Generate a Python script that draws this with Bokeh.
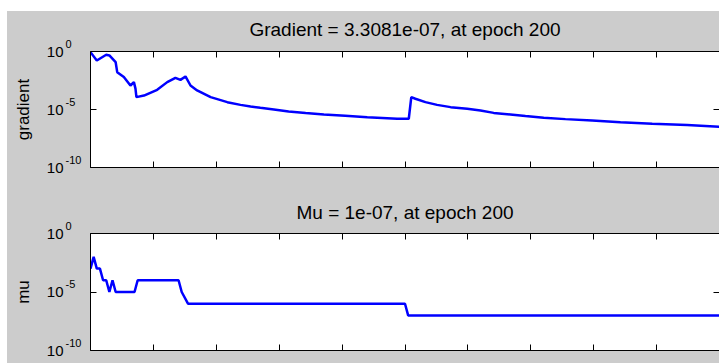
from bokeh.plotting import figure
from bokeh.layouts import column
from bokeh.models import Range1d, LinearAxis, LogAxis, FixedTicker
from bokeh.core.properties import value
from bokeh.embed import file_html
from bokeh.resources import INLINE

# ---- data ----
grad_epoch = [0, 2, 5, 6, 8, 8.5, 10.6, 12.7, 13.8, 14.3, 14.6, 17, 21.2, 24.4, 27, 28.6,
              30.2, 31.8, 33.9, 38.2, 43.5, 47.7, 50.9, 54, 58.3, 63, 68.4, 74.2, 81, 88,
              97.5, 101.2, 102, 103.3, 106.5, 110.2, 114.5, 119.8, 124, 128.2, 133.5,
              138.3, 144.1, 151, 159.5, 168.5, 178.6, 189.7, 200]
grad_value = [0.87, 0.166, 0.525, 0.457, 0.12, 0.0166, 0.0063, 0.00117, 0.00229, 6.3e-4,
              1.17e-4, 1.58e-4, 5.0e-4, 2.29e-3, 5.4e-3, 3.6e-3, 7.1e-3, 1.17e-3, 4.4e-4,
              1.17e-4, 4.3e-5, 2.5e-5, 1.8e-5, 1.4e-5, 1.0e-5, 6.8e-6, 4.9e-6, 3.7e-6,
              2.9e-6, 2.2e-6, 1.6e-6, 1.6e-6, 1.17e-4, 8.5e-5, 4.3e-5, 2.5e-5, 1.6e-5,
              1.15e-5, 8.1e-6, 5.1e-6, 3.7e-6, 2.7e-6, 1.9e-6, 1.48e-6, 1.12e-6, 8.1e-7,
              5.9e-7, 4.5e-7, 3.3081e-7]

mu_epoch = [0, 1, 2, 3, 4, 5, 6, 7, 8, 14, 15, 28, 29, 31, 100, 101, 200]
mu_value = [1e-3, 1e-2, 1e-3, 1e-3, 1e-4, 1e-4, 1e-5, 1e-4, 1e-5, 1e-5, 1e-4, 1e-4,
            1e-5, 1e-6, 1e-6, 1e-7, 1e-7]

x_ticks = [0, 20, 40, 60, 80, 100, 120, 140, 160, 180, 200]
y_ticks = [1e-10, 1e-5, 1e0]
y_tick_base = ["10", "10", "10"]
y_tick_exp = ["-10", "-5", "0"]

titles = ["Gradient = 3.3081e-07, at epoch 200", "Mu = 1e-07, at epoch 200"]
ylabels = ["gradient", "mu"]

FONT = "Liberation Sans"
GRAY = "#cccccc"
X_MIN, X_MAX = 0, 200
Y_MIN, Y_MAX = 1e-10, 1


def style_axis(ax, ticks, line=True):
    ax.ticker = FixedTicker(ticks=ticks, minor_ticks=[])
    ax.major_label_overrides = {t: "" for t in ticks}
    ax.major_tick_in = 6
    ax.major_tick_out = 0
    ax.minor_tick_line_color = None
    ax.major_tick_line_color = "black"
    ax.major_label_standoff = 0
    ax.major_label_text_font_size = "1px"
    ax.axis_line_color = "black" if line else None


def panel(title, ylabel, xs, ys, height, btop, bbottom, title_gap):
    p = figure(width=712, height=height, x_range=Range1d(X_MIN, X_MAX),
               y_range=Range1d(Y_MIN, Y_MAX), y_axis_type="log",
               output_backend="svg", toolbar_location=None,
               min_border_left=83, min_border_right=0,
               min_border_top=btop, min_border_bottom=bbottom,
               background_fill_color="white", border_fill_color=GRAY,
               outline_line_color=None)
    p.grid.visible = False

    style_axis(p.xaxis[0], x_ticks)
    ya = p.yaxis[0]
    style_axis(ya, y_ticks)
    ya.axis_label = ylabel
    ya.axis_label_text_font = FONT
    ya.axis_label_text_font_size = "17px"
    ya.axis_label_text_font_style = "normal"
    ya.axis_label_text_color = "black"
    ya.axis_label_standoff = 58

    top = LinearAxis()
    style_axis(top, x_ticks)
    p.add_layout(top, "above")
    right = LogAxis()
    style_axis(right, y_ticks, line=False)
    p.add_layout(right, "right")

    # title, centred over the axes box, drawn unclipped above it
    p.text(x=[(X_MIN + X_MAX) / 2], y=[Y_MAX], text=[title], y_offset=-title_gap,
           text_align="center", text_baseline="middle", text_font=value(FONT),
           text_font_size="19px", text_color="black", level="overlay")

    # y tick labels: "10" with a raised exponent, drawn unclipped
    p.text(x=[X_MIN] * len(y_ticks), y=y_ticks, text=y_tick_base, x_offset=-27,
           text_align="right", text_baseline="middle", text_font=value(FONT),
           text_font_size="15px", text_color="black", level="overlay")
    p.text(x=[X_MIN] * len(y_ticks), y=y_ticks, text=y_tick_exp, x_offset=-25,
           y_offset=-8, text_align="left", text_baseline="middle",
           text_font=value(FONT), text_font_size="11px", text_color="black",
           level="overlay")

    p.line(xs, ys, line_color="#0000ff", line_width=2.5)
    return p


p1 = panel(titles[0], ylabels[0], grad_epoch, grad_value, 176, 40, 20, 22)
p2 = panel(titles[1], ylabels[1], mu_epoch, mu_value, 176, 46, 13, 21)

layout = column(p1, p2, spacing=0, margin=(11, 0, 0, 7),
                styles={"background-color": GRAY})
open("out.html", "w").write(file_html(layout, INLINE))
